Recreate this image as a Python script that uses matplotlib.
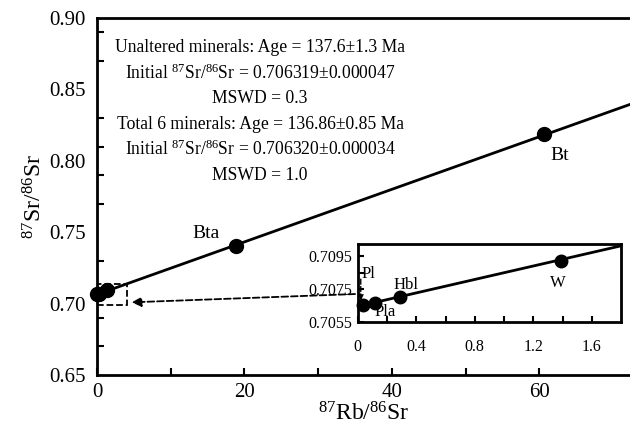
"""
Rb-Sr mineral isochron with an enlarged inset of the low 87Rb/86Sr minerals.
Writes out.png
"""

import numpy as np
import matplotlib
matplotlib.use("Agg")
import matplotlib.pyplot as plt  # noqa: E402
from matplotlib.patches import Rectangle  # noqa: E402

plt.rcParams["font.family"] = ["Liberation Serif", "DejaVu Serif"]
plt.rcParams["mathtext.fontset"] = "custom"
plt.rcParams["mathtext.rm"] = "Liberation Serif"
plt.rcParams["mathtext.it"] = "Liberation Serif:italic"

# mineral separates: 87Rb/86Sr, 87Sr/86Sr
minerals = ["Pl", "Pla", "Hbl", "W", "Bta", "Bt"]
rb_sr = [0.036, 0.116, 0.287, 1.39, 18.9, 60.6]
sr_sr = [0.70653, 0.70667, 0.70700, 0.70922, 0.7404, 0.8188]

# isochron line end points (main panel and inset)
iso_x = [0.0, 72.3]
iso_y = [0.7064, 0.8395]
inset_line_x = [0.0, 1.8]
inset_line_y = [0.70645, 0.71012]

summary = [
    "Unaltered minerals: Age = 137.6\u00b11.3 Ma",
    "Initial $^{87}$Sr/$^{86}$Sr = 0.706319\u00b10.000047",
    "MSWD = 0.3",
    "Total 6 minerals: Age = 136.86\u00b10.85 Ma",
    "Initial $^{87}$Sr/$^{86}$Sr = 0.706320\u00b10.000034",
    "MSWD = 1.0",
]

fig = plt.figure(figsize=(6.30, 4.26), dpi=100)
ax = fig.add_axes([0.154, 0.1197, 0.846, 0.838])

ax.plot(iso_x, iso_y, color="k", lw=2.0, zorder=2)
ax.plot(rb_sr, sr_sr, "o", color="k", ms=10, clip_on=False, zorder=3)

ax.text(62.8, 0.804, "Bt", fontsize=14, ha="center", va="center")
ax.text(14.8, 0.7494, "Bta", fontsize=14, ha="center", va="center")

for i, s in enumerate(summary):
    ax.text(0.306, 0.917 - i * 0.0715, s, transform=ax.transAxes,
            fontsize=12.7, ha="center", va="center")

# zoom box and pointer to the inset
ax.add_patch(Rectangle((0.0, 0.699), 4.0, 0.0147, fill=False, ls="--",
                       lw=1.3, ec="k", zorder=2))
ax.annotate("", xy=(4.7, 0.7009), xytext=(35.0, 0.7067),
            arrowprops=dict(arrowstyle="-|>", ls="--", lw=1.3, color="k",
                            mutation_scale=14, shrinkA=0, shrinkB=0))

ax.set_xlim(0, 72.3)
ax.set_ylim(0.65, 0.90)
ax.set_xticks([0, 20, 40, 60])
ax.set_xticks([10, 30, 50], minor=True)
ax.set_yticks(np.round(np.arange(0.65, 0.901, 0.05), 2))
ax.set_yticks(np.round(np.arange(0.67, 0.90, 0.02), 2), minor=True)
ax.set_yticklabels([f"{v:.2f}" for v in np.arange(0.65, 0.901, 0.05)])
ax.tick_params(axis="x", which="both", direction="in", length=5, width=1.5,
               labelsize=15, pad=6)
ax.tick_params(axis="y", which="major", length=0, labelsize=15, pad=8)
ax.tick_params(axis="y", which="minor", direction="in", length=5, width=1.5)
ax.spines["right"].set_visible(False)
for side in ("left", "bottom", "top"):
    ax.spines[side].set_linewidth(2.0)

ax.set_xlabel("$^{87}$Rb/$^{86}$Sr", fontsize=17, labelpad=0)
ax.set_ylabel("$^{87}$Sr/$^{86}$Sr", fontsize=17, labelpad=2)

# inset: the four low-Rb minerals
axi = fig.add_axes([0.568, 0.2441, 0.4177, 0.1831])
axi.plot(inset_line_x, inset_line_y, color="k", lw=2.0, zorder=2)
axi.plot(rb_sr[:4], sr_sr[:4], "o", color="k", ms=9, clip_on=False, zorder=3)
axi.text(1.37, 0.70786, "W", fontsize=12, ha="center", va="center")
axi.text(0.33, 0.70774, "Hbl", fontsize=12, ha="center", va="center")
axi.text(0.19, 0.70611, "Pla", fontsize=12, ha="center", va="center")
axi.text(0.075, 0.7084, "Pl", fontsize=12, ha="center", va="center")
axi.annotate("", xy=(0.02, 0.7068), xytext=(0.02, 0.7081),
             arrowprops=dict(arrowstyle="-|>", ls="--", lw=1.0, color="k",
                             mutation_scale=8, shrinkA=0, shrinkB=0))

axi.set_xlim(0, 1.8)
axi.set_ylim(0.7055, 0.71023)
axi.set_xticks([0, 0.4, 0.8, 1.2, 1.6])
axi.set_xticklabels(["0", "0.4", "0.8", "1.2", "1.6"])
axi.set_xticks([0.2, 0.6, 1.0, 1.4], minor=True)
axi.set_yticks([0.7055, 0.7075, 0.7095])
axi.set_yticklabels(["0.7055", "0.7075", "0.7095"])
axi.set_yticks([0.7065, 0.7085], minor=True)
axi.tick_params(which="both", direction="in", length=4, width=1.5,
                labelsize=11.5)
axi.tick_params(axis="x", pad=12)
axi.tick_params(axis="y", pad=4)
for sp in axi.spines.values():
    sp.set_linewidth(2.0)

fig.savefig("out.png", dpi=100)
